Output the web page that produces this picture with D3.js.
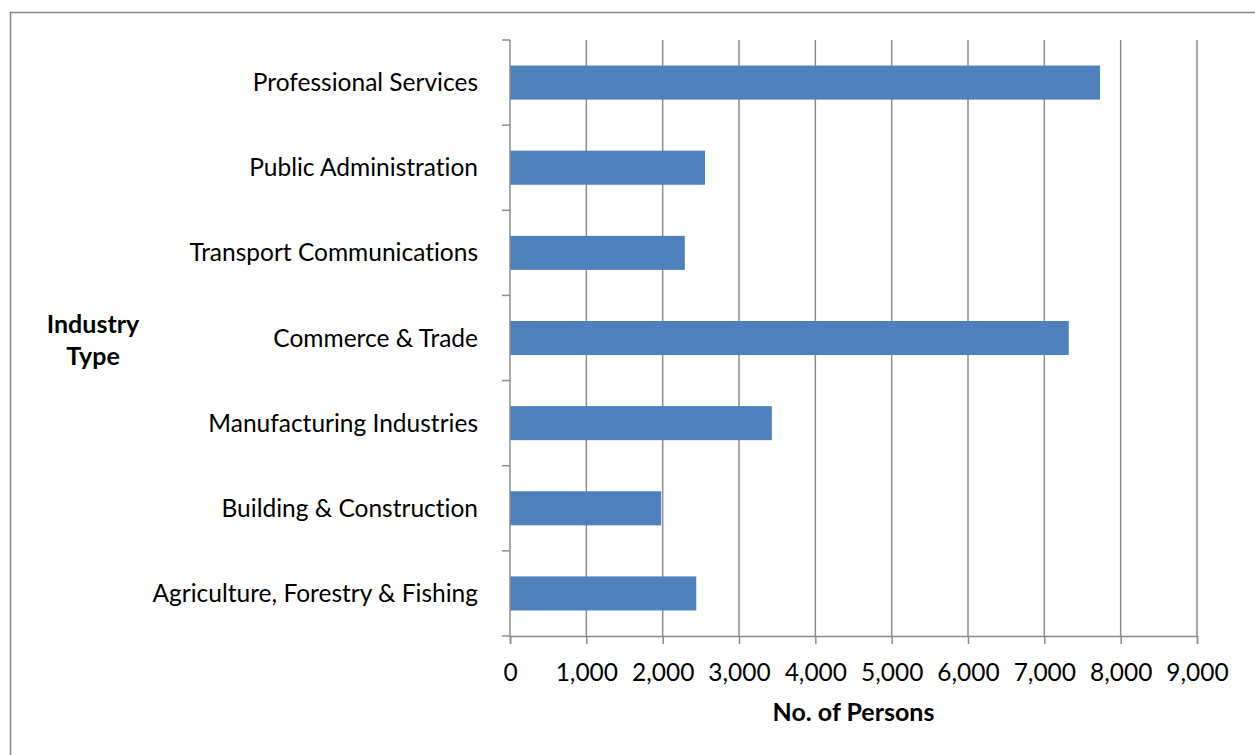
<!DOCTYPE html>
<html>
<head>
<meta charset="utf-8">
<script src="https://cdn.jsdelivr.net/npm/d3@7"></script>
<style>
  body { margin: 0; background: #fff; }
  svg { display: block; font-family: Lato, "Open Sans", sans-serif; font-variant-ligatures: none; }
</style>
</head>
<body>
<svg id="chart"></svg>
<script>
// data, top to bottom as in the picture
const industries = [
  'Professional Services',
  'Public Administration',
  'Transport Communications',
  'Commerce & Trade',
  'Manufacturing Industries',
  'Building & Construction',
  'Agriculture, Forestry & Fishing'
]
const persons = [7730, 2555, 2290, 7320, 3430, 1980, 2440]
const xTicks = [0, 1000, 2000, 3000, 4000, 5000, 6000, 7000, 8000, 9000]

let width = 1255
let height = 755
let margin = { top: 40, right: 58, bottom: 119, left: 510 }
let plotW = width - margin.left - margin.right
let plotH = height - margin.top - margin.bottom

let svg = d3.select('#chart')
  .attr('width', width)
  .attr('height', height)

// outer frame
svg.append('rect')
  .attr('x', 10.5).attr('y', 12.5)
  .attr('width', 1260).attr('height', 760)
  .attr('fill', 'none')
  .attr('stroke', '#868686')
  .attr('stroke-width', 1.5)

let g = svg.append('g')
  .attr('transform', `translate(${margin.left},${margin.top})`)

let x = d3.scaleLinear().domain([0, 9000]).range([0, plotW])
let y = d3.scaleBand().domain(industries).range([0, plotH]).paddingInner(0.6).paddingOuter(0.3)

// vertical gridlines
g.append('g')
  .selectAll('line')
  .data(xTicks.slice(1))
  .enter()
  .append('line')
  .attr('x1', d => x(d)).attr('x2', d => x(d))
  .attr('y1', 0).attr('y2', plotH)
  .attr('stroke', '#8c8c8c')
  .attr('stroke-width', 1.5)

// bars
g.append('g')
  .selectAll('rect')
  .data(industries)
  .enter()
  .append('rect')
  .attr('x', x(0))
  .attr('y', d => y(d))
  .attr('width', (d, i) => x(persons[i]) - x(0))
  .attr('height', y.bandwidth())
  .attr('fill', '#4f81bd')

// x axis
let xAxis = g.append('g')
  .attr('transform', `translate(0,${plotH})`)
  .call(d3.axisBottom(x).tickValues(xTicks).tickFormat(d3.format(',')).tickSize(8).tickPadding(20))
xAxis.select('.domain').attr('stroke', '#8c8c8c').attr('stroke-width', 1.5)
xAxis.selectAll('.tick line').attr('stroke', '#8c8c8c').attr('stroke-width', 1.5)
xAxis.selectAll('text').attr('font-size', 24.5).attr('fill', '#000').attr('font-family', 'Lato')

// y axis: ticks between categories
let step = plotH / industries.length
let yAxis = g.append('g')
yAxis.append('line')
  .attr('x1', 0).attr('x2', 0).attr('y1', 0).attr('y2', plotH)
  .attr('stroke', '#8c8c8c').attr('stroke-width', 1.5)
yAxis.selectAll('.ytick')
  .data(d3.range(industries.length + 1))
  .enter()
  .append('line')
  .attr('x1', -8).attr('x2', 0)
  .attr('y1', d => d * step).attr('y2', d => d * step)
  .attr('stroke', '#8c8c8c').attr('stroke-width', 1.5)

g.append('g')
  .selectAll('text')
  .data(industries)
  .enter()
  .append('text')
  .attr('x', -32)
  .attr('y', d => y(d) + y.bandwidth() / 2)
  .attr('dy', '0.35em')
  .attr('text-anchor', 'end')
  .attr('font-size', 24.5)
  .text(d => d)

// axis titles
svg.append('text')
  .attr('x', margin.left + plotW / 2)
  .attr('y', 721)
  .attr('text-anchor', 'middle')
  .attr('font-size', 25)
  .attr('font-weight', 'bold')
  .text('No. of Persons')

let yt = svg.append('text')
  .attr('text-anchor', 'middle')
  .attr('font-size', 25)
  .attr('font-weight', 'bold')
yt.append('tspan').attr('x', 93).attr('y', 333).text('Industry')
yt.append('tspan').attr('x', 93).attr('y', 365).text('Type')
</script>
</body>
</html>
